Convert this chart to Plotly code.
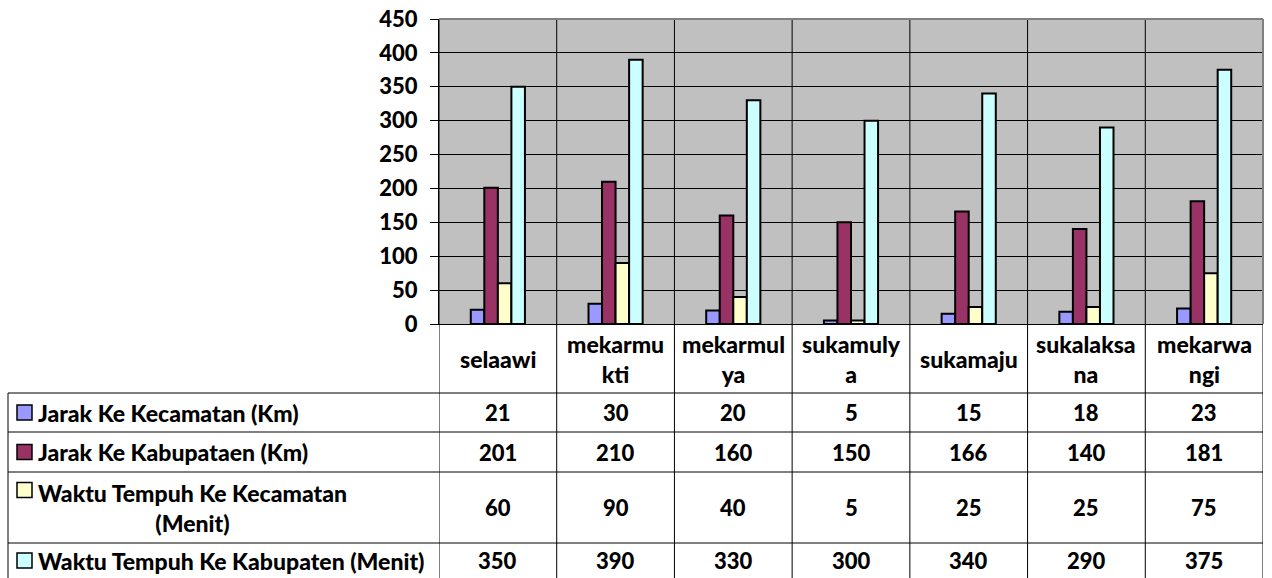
import plotly.graph_objects as go

W, H = 1272, 578

categories = ["selaawi", "mekarmukti", "mekarmulya", "sukamulya", "sukamaju", "sukalaksana", "mekarwangi"]
category_labels = ["selaawi", "mekarmu<br>kti", "mekarmul<br>ya", "sukamuly<br>a", "sukamaju", "sukalaksa<br>na", "mekarwa<br>ngi"]

jarak_kecamatan = [21, 30, 20, 5, 15, 18, 23]
jarak_kabupaten = [201, 210, 160, 150, 166, 140, 181]
waktu_kecamatan = [60, 90, 40, 5, 25, 25, 75]
waktu_kabupaten = [350, 390, 330, 300, 340, 290, 375]

series_names = [
    "Jarak Ke Kecamatan (Km)",
    "Jarak Ke Kabupataen (Km)",
    "Waktu Tempuh Ke Kecamatan<br>(Menit)",
    "Waktu Tempuh Ke Kabupaten (Menit)",
]
series_values = [jarak_kecamatan, jarak_kabupaten, waktu_kecamatan, waktu_kabupaten]
series_colors = ["#9999FF", "#993366", "#FFFFCC", "#CCFFFF"]

y_ticks = list(range(0, 451, 50))

FONT = "Lato"
FW = 900
FS_TXT = 23
FS_NUM = 22

def px_x(p):
    return p / W

def px_y(p):
    return 1 - p / H

# plot area in pixels
PL, PR, PT, PB = 439, 1263, 19, 324
# table rows (pixel y boundaries)
row_edges = [324, 393, 432, 472, 543, 578]
TL = 8

fig = go.Figure()
for name, vals, col in zip(series_names, series_values, series_colors):
    fig.add_trace(go.Bar(
        x=categories, y=vals, name=name,
        marker=dict(color=col, line=dict(color="black", width=2)),
        showlegend=False,
    ))

shapes = []
annotations = []

# vertical category boundary lines inside plot and table
for i in range(len(categories) + 1):
    shapes.append(dict(type="line", xref="x", yref="paper",
                       x0=i - 0.5, x1=i - 0.5, y0=px_y(row_edges[-1]), y1=px_y(PT),
                       line=dict(color="black", width=1), layer="above"))

# plot border top/right gray
shapes.append(dict(type="line", xref="paper", yref="paper", x0=px_x(PL), x1=px_x(PR),
                   y0=px_y(PT), y1=px_y(PT), line=dict(color="#808080", width=2)))
shapes.append(dict(type="line", xref="paper", yref="paper", x0=px_x(PR), x1=px_x(PR),
                   y0=px_y(PT), y1=px_y(PB), line=dict(color="#808080", width=2)))

# table horizontal lines
for yy in row_edges[1:-1]:
    shapes.append(dict(type="line", xref="paper", yref="paper", x0=px_x(TL), x1=px_x(PR),
                       y0=px_y(yy), y1=px_y(yy), line=dict(color="black", width=1)))
# table left vertical line
shapes.append(dict(type="line", xref="paper", yref="paper", x0=px_x(TL), x1=px_x(TL),
                   y0=px_y(row_edges[1]), y1=px_y(row_edges[-1]), line=dict(color="black", width=1)))

# category labels
cy = (row_edges[0] + row_edges[1]) / 2
for c, lab in zip(categories, category_labels):
    annotations.append(dict(x=c, y=px_y(cy), xref="x", yref="paper", text=lab,
                            showarrow=False, xanchor="center", yanchor="middle",
                            font=dict(family=FONT, size=FS_TXT, color="black", weight=FW)))

# rows
for r, (name, vals, col) in enumerate(zip(series_names, series_values, series_colors)):
    y0, y1 = row_edges[r + 1], row_edges[r + 2]
    ym = (y0 + y1) / 2
    key_y = ym if "<br>" not in name else y0 + 18
    shapes.append(dict(type="rect", xref="paper", yref="paper",
                       x0=px_x(17), x1=px_x(32), y0=px_y(key_y + 7.5), y1=px_y(key_y - 7.5),
                       fillcolor=col, line=dict(color="black", width=1.5)))
    annotations.append(dict(x=px_x(36), y=px_y(ym), xref="paper", yref="paper", text=name,
                            showarrow=False, xanchor="left", yanchor="middle", align="center",
                            font=dict(family=FONT, size=FS_TXT, color="black", weight=FW)))
    for c, v in zip(categories, vals):
        annotations.append(dict(x=c, y=px_y(ym), xref="x", yref="paper", text=str(v),
                                showarrow=False, xanchor="center", yanchor="middle",
                                font=dict(family=FONT, size=FS_NUM, color="black", weight=FW)))

fig.update_layout(
    width=W, height=H,
    margin=dict(l=0, r=0, t=0, b=0, autoexpand=False),
    paper_bgcolor="white",
    plot_bgcolor="#C0C0C0",
    barmode="group",
    bargap=0.54,
    bargroupgap=0,
    shapes=shapes,
    annotations=annotations,
    xaxis=dict(domain=[px_x(PL), px_x(PR)], range=[-0.5, len(categories) - 0.5],
               showticklabels=False, showgrid=False, zeroline=False, automargin=False,
               showline=True, linecolor="black", linewidth=1),
    yaxis=dict(domain=[px_y(PB), px_y(PT)], range=[0, 450], tickvals=y_ticks,
               ticks="outside", ticklen=8, tickcolor="black", tickwidth=1,
               showgrid=True, gridcolor="black", gridwidth=1, zeroline=False,
               showline=True, linecolor="black", linewidth=1, automargin=False,
               ticklabelstandoff=8,
               tickfont=dict(family=FONT, size=FS_NUM, color="black", weight=FW)),
)

fig.write_html("out.html")
